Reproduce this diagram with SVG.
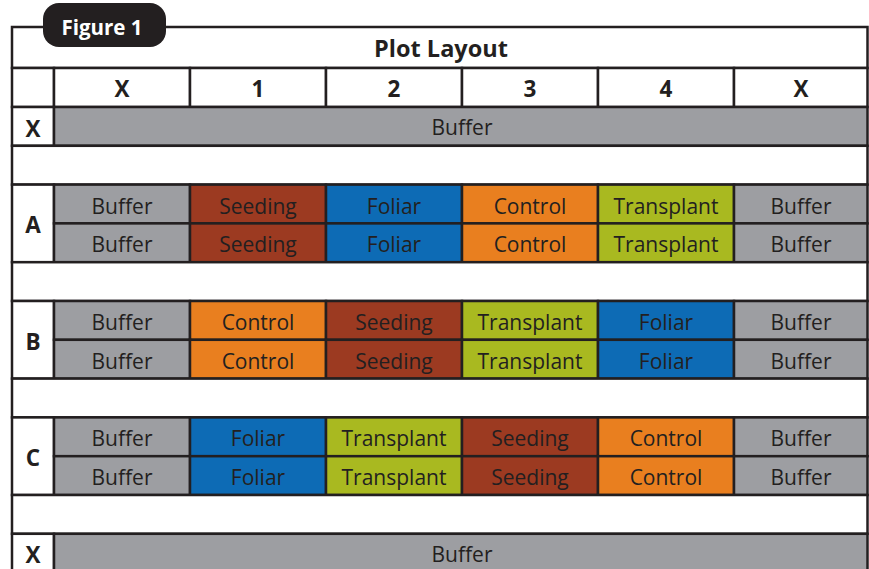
<svg xmlns="http://www.w3.org/2000/svg" width="869" height="569" viewBox="0 0 869 569">
<style>
  .ln{stroke:#231f20;stroke-width:2.5;}
  .w{fill:#ffffff;}
  .g{fill:#9d9ea2;}
  .s{fill:#9c3a21;}
  .f{fill:#0d6bb5;}
  .c{fill:#e97f1f;}
  .t{fill:#a9b920;}
  .lbl{font-family:"Open Sans","Liberation Sans",sans-serif;font-weight:700;font-size:22.5px;fill:#231f20;text-anchor:middle;}
  .cell{font-family:"Open Sans","Noto Sans","Liberation Sans",sans-serif;font-size:21px;fill:#231f20;text-anchor:middle;}
</style>
<rect width="869" height="569" fill="#ffffff"/>

<g id="frame">
  <rect x="12" y="27" width="855.5" height="41" class="w ln"/>
  <text x="441" y="57" class="lbl" style="font-size:23.5px">Plot Layout</text>
</g>

<g id="tab">
  <rect x="43" y="3" width="123" height="44" rx="16" fill="#231f20"/>
  <text x="102" y="35" class="lbl" style="fill:#ffffff;font-size:20.5px">Figure 1</text>
</g>

<g id="header">
  <rect x="12" y="68" width="42" height="39" class="w ln"/>
  <rect x="54" y="68" width="136" height="39" class="w ln"/>
  <rect x="190" y="68" width="136" height="39" class="w ln"/>
  <rect x="326" y="68" width="136" height="39" class="w ln"/>
  <rect x="462" y="68" width="136" height="39" class="w ln"/>
  <rect x="598" y="68" width="136" height="39" class="w ln"/>
  <rect x="734" y="68" width="133.5" height="39" class="w ln"/>
  <text x="122" y="97" class="lbl">X</text>
  <text x="258" y="97" class="lbl">1</text>
  <text x="394" y="97" class="lbl">2</text>
  <text x="530" y="97" class="lbl">3</text>
  <text x="666" y="97" class="lbl">4</text>
  <text x="801" y="97" class="lbl">X</text>
</g>

<g id="row-x-top">
  <rect x="12" y="107" width="42" height="38.8" class="w ln"/>
  <rect x="54" y="107" width="813.5" height="38.8" class="g ln"/>
  <text x="33" y="136.5" class="lbl">X</text>
  <text x="462" y="135" class="cell">Buffer</text>
</g>

<g id="blank-1"><rect x="12" y="145.8" width="855.5" height="38.8" class="w ln"/></g>

<g id="block-a">
  <rect x="12" y="184.6" width="42" height="77.6" class="w ln"/>
  <text x="33" y="233.4" class="lbl">A</text>
  <rect x="54" y="184.6" width="136" height="38.8" class="g ln"/>
  <rect x="190" y="184.6" width="136" height="38.8" class="s ln"/>
  <rect x="326" y="184.6" width="136" height="38.8" class="f ln"/>
  <rect x="462" y="184.6" width="136" height="38.8" class="c ln"/>
  <rect x="598" y="184.6" width="136" height="38.8" class="t ln"/>
  <rect x="734" y="184.6" width="133.5" height="38.8" class="g ln"/>
  <rect x="54" y="223.4" width="136" height="38.8" class="g ln"/>
  <rect x="190" y="223.4" width="136" height="38.8" class="s ln"/>
  <rect x="326" y="223.4" width="136" height="38.8" class="f ln"/>
  <rect x="462" y="223.4" width="136" height="38.8" class="c ln"/>
  <rect x="598" y="223.4" width="136" height="38.8" class="t ln"/>
  <rect x="734" y="223.4" width="133.5" height="38.8" class="g ln"/>
  <text x="122" y="213.5" class="cell">Buffer</text>
  <text x="258" y="213.5" class="cell">Seeding</text>
  <text x="394" y="213.5" class="cell">Foliar</text>
  <text x="530" y="213.5" class="cell">Control</text>
  <text x="666" y="213.5" class="cell">Transplant</text>
  <text x="801" y="213.5" class="cell">Buffer</text>
  <text x="122" y="252.3" class="cell">Buffer</text>
  <text x="258" y="252.3" class="cell">Seeding</text>
  <text x="394" y="252.3" class="cell">Foliar</text>
  <text x="530" y="252.3" class="cell">Control</text>
  <text x="666" y="252.3" class="cell">Transplant</text>
  <text x="801" y="252.3" class="cell">Buffer</text>
</g>

<g id="blank-2"><rect x="12" y="262.2" width="855.5" height="38.8" class="w ln"/></g>

<g id="block-b">
  <rect x="12" y="301" width="42" height="77.6" class="w ln"/>
  <text x="33" y="349.8" class="lbl">B</text>
  <rect x="54" y="301" width="136" height="38.8" class="g ln"/>
  <rect x="190" y="301" width="136" height="38.8" class="c ln"/>
  <rect x="326" y="301" width="136" height="38.8" class="s ln"/>
  <rect x="462" y="301" width="136" height="38.8" class="t ln"/>
  <rect x="598" y="301" width="136" height="38.8" class="f ln"/>
  <rect x="734" y="301" width="133.5" height="38.8" class="g ln"/>
  <rect x="54" y="339.8" width="136" height="38.8" class="g ln"/>
  <rect x="190" y="339.8" width="136" height="38.8" class="c ln"/>
  <rect x="326" y="339.8" width="136" height="38.8" class="s ln"/>
  <rect x="462" y="339.8" width="136" height="38.8" class="t ln"/>
  <rect x="598" y="339.8" width="136" height="38.8" class="f ln"/>
  <rect x="734" y="339.8" width="133.5" height="38.8" class="g ln"/>
  <text x="122" y="329.9" class="cell">Buffer</text>
  <text x="258" y="329.9" class="cell">Control</text>
  <text x="394" y="329.9" class="cell">Seeding</text>
  <text x="530" y="329.9" class="cell">Transplant</text>
  <text x="666" y="329.9" class="cell">Foliar</text>
  <text x="801" y="329.9" class="cell">Buffer</text>
  <text x="122" y="368.7" class="cell">Buffer</text>
  <text x="258" y="368.7" class="cell">Control</text>
  <text x="394" y="368.7" class="cell">Seeding</text>
  <text x="530" y="368.7" class="cell">Transplant</text>
  <text x="666" y="368.7" class="cell">Foliar</text>
  <text x="801" y="368.7" class="cell">Buffer</text>
</g>

<g id="blank-3"><rect x="12" y="378.6" width="855.5" height="38.8" class="w ln"/></g>

<g id="block-c">
  <rect x="12" y="417.4" width="42" height="77.6" class="w ln"/>
  <text x="33" y="466.2" class="lbl">C</text>
  <rect x="54" y="417.4" width="136" height="38.8" class="g ln"/>
  <rect x="190" y="417.4" width="136" height="38.8" class="f ln"/>
  <rect x="326" y="417.4" width="136" height="38.8" class="t ln"/>
  <rect x="462" y="417.4" width="136" height="38.8" class="s ln"/>
  <rect x="598" y="417.4" width="136" height="38.8" class="c ln"/>
  <rect x="734" y="417.4" width="133.5" height="38.8" class="g ln"/>
  <rect x="54" y="456.2" width="136" height="38.8" class="g ln"/>
  <rect x="190" y="456.2" width="136" height="38.8" class="f ln"/>
  <rect x="326" y="456.2" width="136" height="38.8" class="t ln"/>
  <rect x="462" y="456.2" width="136" height="38.8" class="s ln"/>
  <rect x="598" y="456.2" width="136" height="38.8" class="c ln"/>
  <rect x="734" y="456.2" width="133.5" height="38.8" class="g ln"/>
  <text x="122" y="446.3" class="cell">Buffer</text>
  <text x="258" y="446.3" class="cell">Foliar</text>
  <text x="394" y="446.3" class="cell">Transplant</text>
  <text x="530" y="446.3" class="cell">Seeding</text>
  <text x="666" y="446.3" class="cell">Control</text>
  <text x="801" y="446.3" class="cell">Buffer</text>
  <text x="122" y="485.1" class="cell">Buffer</text>
  <text x="258" y="485.1" class="cell">Foliar</text>
  <text x="394" y="485.1" class="cell">Transplant</text>
  <text x="530" y="485.1" class="cell">Seeding</text>
  <text x="666" y="485.1" class="cell">Control</text>
  <text x="801" y="485.1" class="cell">Buffer</text>
</g>

<g id="blank-4"><rect x="12" y="495" width="855.5" height="38.8" class="w ln"/></g>

<g id="row-x-bottom">
  <rect x="12" y="533.8" width="42" height="40" class="w ln"/>
  <rect x="54" y="533.8" width="813.5" height="40" class="g ln"/>
  <text x="33" y="563.3" class="lbl">X</text>
  <text x="462" y="562" class="cell">Buffer</text>
</g>

<g id="connectors"></g>
</svg>
